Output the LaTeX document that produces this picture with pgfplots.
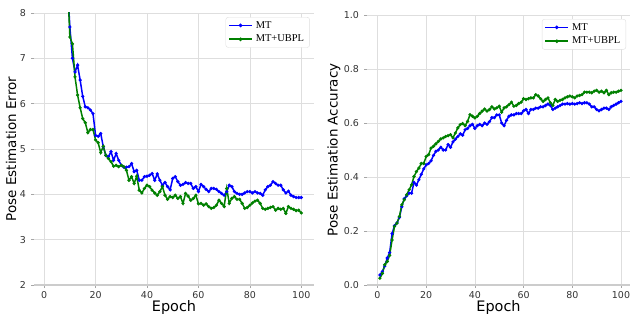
\documentclass[border=0pt]{standalone}
\usepackage{pgfplots}
\pgfplotsset{compat=1.18}
\usepackage{fontspec}
\setmainfont{DejaVu Sans}
\newfontfamily\legfont{Liberation Serif}
\definecolor{mtblue}{RGB}{0,0,255}
\definecolor{mtgreen}{RGB}{0,128,0}
\definecolor{gridc}{RGB}{222,222,222}
\definecolor{spinec}{RGB}{204,204,204}

\pgfplotstableread{
e v
9 8.7
10 7.69
11 7.0
12 6.7
13 6.85
14 6.52
15 6.16
16 5.93
17 5.91
18 5.86
19 5.78
20 5.30
21 5.28
22 5.34
23 5.05
24 4.86
25 4.83
26 4.94
27 4.75
28 4.90
29 4.75
30 4.64
31 4.60
32 4.60
33 4.61
34 4.68
35 4.50
36 4.53
37 4.31
38 4.31
39 4.39
40 4.40
41 4.42
42 4.46
43 4.31
44 4.45
45 4.31
46 4.20
47 4.26
48 4.17
49 4.10
50 4.35
51 4.39
52 4.28
53 4.20
54 4.22
55 4.26
56 4.24
57 4.24
58 4.13
59 4.17
60 4.06
61 4.22
62 4.17
63 4.11
64 4.06
65 4.13
66 4.13
67 4.11
68 4.06
69 4.02
70 3.98
71 4.06
72 4.20
73 4.17
74 4.06
75 4.02
76 4.00
77 4.00
78 4.03
79 4.06
80 4.06
81 4.03
82 4.06
83 4.03
84 4.02
85 3.98
86 4.10
87 4.17
88 4.20
89 4.28
90 4.24
91 4.20
92 4.20
93 4.10
94 4.03
95 4.07
96 3.98
97 3.95
98 3.93
99 3.93
100 3.93
}\errMT

\pgfplotstableread{
e v
9 8.8
10 7.47
11 7.32
12 6.59
13 6.19
14 5.91
15 5.67
16 5.58
17 5.36
18 5.43
19 5.43
20 5.20
21 5.14
22 4.92
23 5.06
24 4.86
25 4.79
26 4.72
27 4.62
28 4.64
29 4.61
30 4.64
31 4.61
32 4.53
33 4.31
34 4.39
35 4.24
36 4.40
37 4.09
38 4.03
39 4.13
40 4.20
41 4.17
42 4.09
43 4.03
44 3.98
45 4.06
46 4.17
47 3.98
48 3.89
49 3.95
50 3.93
51 3.98
52 3.91
53 3.95
54 3.80
55 4.02
56 3.96
57 3.87
58 3.91
59 3.98
60 3.79
61 3.80
62 3.76
63 3.79
64 3.73
65 3.69
66 3.71
67 3.76
68 3.87
69 3.80
70 3.73
71 4.13
72 3.80
73 3.91
74 3.95
75 3.89
76 3.89
77 3.80
78 3.69
79 3.71
80 3.76
81 3.81
82 3.85
83 3.87
84 3.80
85 3.69
86 3.67
87 3.69
88 3.71
89 3.73
90 3.65
91 3.69
92 3.67
93 3.69
94 3.58
95 3.73
96 3.69
97 3.67
98 3.64
99 3.65
100 3.59
}\errUB

\pgfplotstableread{
e v
1 0.037
2 0.050
3 0.070
4 0.100
5 0.120
6 0.190
7 0.220
8 0.230
9 0.250
10 0.290
11 0.320
12 0.330
13 0.340
14 0.340
15 0.380
16 0.370
17 0.390
18 0.410
19 0.430
20 0.445
21 0.450
22 0.460
23 0.480
24 0.495
25 0.500
26 0.510
27 0.500
28 0.500
29 0.520
30 0.510
31 0.530
32 0.540
33 0.550
34 0.560
35 0.555
36 0.575
37 0.580
38 0.590
39 0.595
40 0.580
41 0.590
42 0.595
43 0.590
44 0.600
45 0.595
46 0.605
47 0.620
48 0.620
49 0.630
50 0.630
51 0.600
52 0.590
53 0.610
54 0.625
55 0.630
56 0.630
57 0.635
58 0.635
59 0.635
60 0.645
61 0.650
62 0.635
63 0.650
64 0.650
65 0.655
66 0.655
67 0.660
68 0.660
69 0.665
70 0.670
71 0.665
72 0.650
73 0.655
74 0.660
75 0.665
76 0.670
77 0.670
78 0.672
79 0.670
80 0.672
81 0.670
82 0.672
83 0.675
84 0.672
85 0.675
86 0.675
87 0.670
88 0.660
89 0.660
90 0.650
91 0.645
92 0.650
93 0.655
94 0.655
95 0.650
96 0.660
97 0.665
98 0.670
99 0.675
100 0.680
}\accMT

\pgfplotstableread{
e v
1 0.025
2 0.043
3 0.075
4 0.087
5 0.110
6 0.167
7 0.217
8 0.229
9 0.254
10 0.297
11 0.316
12 0.334
13 0.353
14 0.371
15 0.402
16 0.420
17 0.433
18 0.450
19 0.450
20 0.476
21 0.483
22 0.507
23 0.514
24 0.523
25 0.532
26 0.541
27 0.545
28 0.550
29 0.553
30 0.557
31 0.545
32 0.563
33 0.582
34 0.594
35 0.598
36 0.590
37 0.606
38 0.631
39 0.625
40 0.619
41 0.625
42 0.635
43 0.644
44 0.652
45 0.644
46 0.650
47 0.660
48 0.652
49 0.656
50 0.662
51 0.640
52 0.656
53 0.660
54 0.668
55 0.677
56 0.662
57 0.665
58 0.672
59 0.677
60 0.690
61 0.687
62 0.690
63 0.693
64 0.693
65 0.705
66 0.700
67 0.690
68 0.680
69 0.687
70 0.693
71 0.675
72 0.665
73 0.687
74 0.680
75 0.684
76 0.687
77 0.693
78 0.697
79 0.700
80 0.697
81 0.693
82 0.700
83 0.702
84 0.705
85 0.714
86 0.714
87 0.714
88 0.712
89 0.718
90 0.721
91 0.714
92 0.718
93 0.712
94 0.721
95 0.705
96 0.712
97 0.714
98 0.714
99 0.718
100 0.721
}\accUB

\pgfplotsset{
  myax/.style={
    scale only axis,
    axis x line*=bottom,
    axis y line*=left,
    x axis line style={draw=spinec, line width=1.3bp},
    y axis line style={draw=none},
    grid=major,
    major grid style={draw=gridc, line width=0.7bp},
    tick align=outside,
    major tick length=3bp,
    tick style={draw=gray!70, line width=0.5bp},
    ticklabel style={font=\fontsize{9.5}{10}\selectfont, text=black!80},
    yticklabel style={xshift=-1.5bp},
    /pgf/number format/assume math mode=true,
    xtick={0,20,40,60,80,100},
    xlabel={Epoch},
    xlabel style={font=\fontsize{14.5}{15}\selectfont, inner sep=0pt, yshift=2bp},
    ylabel style={font=\fontsize{13.5}{14}\selectfont, inner sep=0pt},
    legend style={at={(0.985,0.985)}, anchor=north east, draw=gridc, rounded corners=2.5bp,
      font=\legfont\fontsize{10.5}{12}\selectfont, inner xsep=2.5bp, inner ysep=3bp,
      row sep=3.5bp, fill=white,
      nodes={inner xsep=3bp, inner ysep=1bp}},
    legend cell align=left,
    legend image code/.code={\draw[line width=1.8bp, mark size=0.75bp, mark repeat=2,mark phase=2] plot coordinates {(0cm,0cm) (0.4cm,0cm) (0.8cm,0cm)};},
    every axis plot/.append style={line width=1.5bp, mark=*, mark size=0.75bp},
  }
}

\begin{document}
\begin{tikzpicture}
\useasboundingbox (0,0) rectangle (631bp,314bp);
\begin{axis}[myax,
  at={(34bp,29bp)}, anchor=south west,
  width=280bp, height=272bp,
  xmin=-3.95, xmax=104.95, ymin=2, ymax=8,
  ytick={2,3,4,5,6,7,8},
  ylabel={Pose Estimation Error},
]
\addplot[color=mtblue] table[x=e,y=v] {\errMT};
\addplot[color=mtgreen] table[x=e,y=v] {\errUB};
\legend{MT, MT+UBPL}
\end{axis}
\begin{axis}[myax,
  at={(367bp,29bp)}, anchor=south west,
  width=263bp, height=270bp,
  xmin=-4.3, xmax=103.7, ymin=0, ymax=1,
  ytick={0,0.2,0.4,0.6,0.8,1.0},
  yticklabel style={/pgf/number format/.cd, fixed, fixed zerofill, precision=1},
  ylabel={Pose Estimation Accuracy},
]
\addplot[color=mtblue] table[x=e,y=v] {\accMT};
\addplot[color=mtgreen] table[x=e,y=v] {\accUB};
\legend{MT, MT+UBPL}
\end{axis}
\end{tikzpicture}
\end{document}
